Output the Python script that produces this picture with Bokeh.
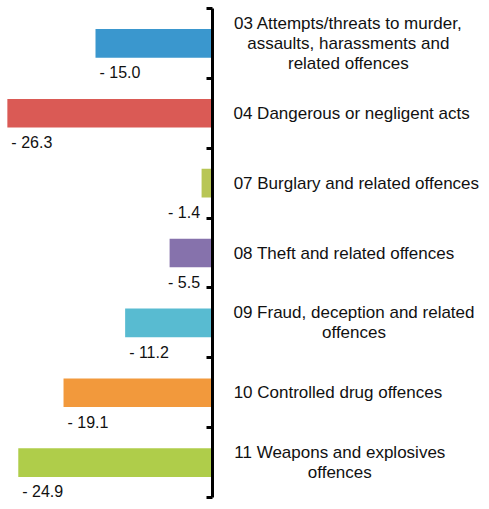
from bokeh.plotting import figure
from bokeh.models import Range1d, LinearAxis, FixedTicker, ColumnDataSource
from bokeh.core.properties import value
from bokeh.embed import file_html
from bokeh.resources import INLINE

# ---- data ----
categories = [
    "03 Attempts/threats to murder,\nassaults, harassments and\nrelated offences",
    "04 Dangerous or negligent acts",
    "07 Burglary and related offences",
    "08 Theft and related offences",
    "09 Fraud, deception and related\noffences",
    "10 Controlled drug offences",
    "11 Weapons and explosives\noffences",
]
values = [-15.0, -26.3, -1.4, -5.5, -11.2, -19.1, -24.9]
colors = ["#3A97CE", "#DA5A55", "#B8C655", "#8672AC", "#58BBD1", "#F2993C", "#AFCD4A"]

# ---- layout ----
W, H = 481, 501
n = len(categories)
AXIS_PX = 212.0          # x pixel of the zero line
PPX = 7.8                # pixels per unit on x
TOP_TICK_PX, BOT_TICK_PX = 8.0, 497.0
x0 = -AXIS_PX / PPX
x1 = x0 + W / PPX
ppy = (BOT_TICK_PX - TOP_TICK_PX) / n
y_top = -TOP_TICK_PX / ppy
y_bot = n + (H - BOT_TICK_PX) / ppy
ppx = PPX
FONT = "Liberation Sans"
LBL_SIZE = 17
VAL_SIZE = 16

p = figure(width=W, height=H, x_range=Range1d(x0, x1), y_range=Range1d(y_bot, y_top),
           output_backend="svg", toolbar_location=None, min_border=0,
           x_axis_type=None, y_axis_type=None)
p.grid.visible = False
p.outline_line_color = None
p.background_fill_color = "white"

ypos = [i + 0.5 for i in range(n)]
bar_h = 0.41

p.hbar(y=ypos, left=values, right=0, height=bar_h, fill_color=colors, line_color=None)

# vertical axis at x=0
ax = LinearAxis(fixed_location=0, ticker=FixedTicker(ticks=list(range(n + 1))),
                bounds=(0, n))
ax.axis_line_width = 3
ax.axis_line_color = "black"
ax.major_tick_line_width = 3
ax.major_tick_line_color = "black"
ax.major_tick_out = 6
ax.major_tick_in = 0
ax.minor_tick_line_color = None
ax.major_label_text_font_size = "0px"
ax.major_label_text_color = None
p.add_layout(ax, "left")

# ---- category labels (first line left edge fixed, other lines centred under it) ----
AW = {' ': 278, ',': 278, '/': 278, '.': 278, '-': 333,
      'A': 667, 'B': 667, 'C': 722, 'D': 722, 'F': 611, 'T': 611, 'W': 944,
      'a': 556, 'b': 556, 'c': 500, 'd': 556, 'e': 556, 'f': 278, 'g': 556, 'h': 556,
      'i': 222, 'j': 222, 'k': 500, 'l': 222, 'm': 833, 'n': 556, 'o': 556, 'p': 556,
      'q': 556, 'r': 333, 's': 500, 't': 278, 'u': 556, 'v': 500, 'w': 722, 'x': 500,
      'y': 500, 'z': 500}


def text_w(s, size):
    return sum(AW.get(c, 556) for c in s) * size / 1000.0


LINE_PX = 20
GAP_PX = 21
lx, ly, lxo, lt = [], [], [], []
for i, cat in enumerate(categories):
    lines = cat.split("\n")
    w1 = text_w(lines[0], LBL_SIZE)
    k = len(lines)
    for j, line in enumerate(lines):
        lx.append(0)
        ly.append(ypos[i] + (j - (k - 1) / 2) * LINE_PX / ppy)
        lxo.append(GAP_PX + w1 / 2)
        lt.append(line)
src_l = ColumnDataSource(dict(x=lx, y=ly, xo=lxo, t=lt))
p.text(x="x", y="y", text="t", x_offset="xo", source=src_l, text_align="center",
       text_baseline="middle", text_font=value(FONT), text_font_size=f"{LBL_SIZE}px",
       text_color="#111111")

# ---- value labels under bars ----
VAL_W_PX = 44
va = dict(x=[], y=[], t=[])
vb = dict(x=[], y=[], t=[])
for i, v in enumerate(values):
    t = f"- {abs(v):4.1f}"
    yy = ypos[i] + bar_h / 2 + 15 / ppy
    if v * ppx + 4 + VAL_W_PX > -8:
        vb["x"].append(0); vb["y"].append(yy); vb["t"].append(t)
    else:
        va["x"].append(v); va["y"].append(yy); va["t"].append(t)
p.text(x="x", y="y", text="t", source=ColumnDataSource(va), x_offset=4,
       text_align="left", text_baseline="middle", text_font=value(FONT),
       text_font_size=f"{VAL_SIZE}px", text_color="#111111")
p.text(x="x", y="y", text="t", source=ColumnDataSource(vb), x_offset=-8,
       text_align="right", text_baseline="middle", text_font=value(FONT),
       text_font_size=f"{VAL_SIZE}px", text_color="#111111")

open("out.html", "w").write(file_html(p, INLINE))
